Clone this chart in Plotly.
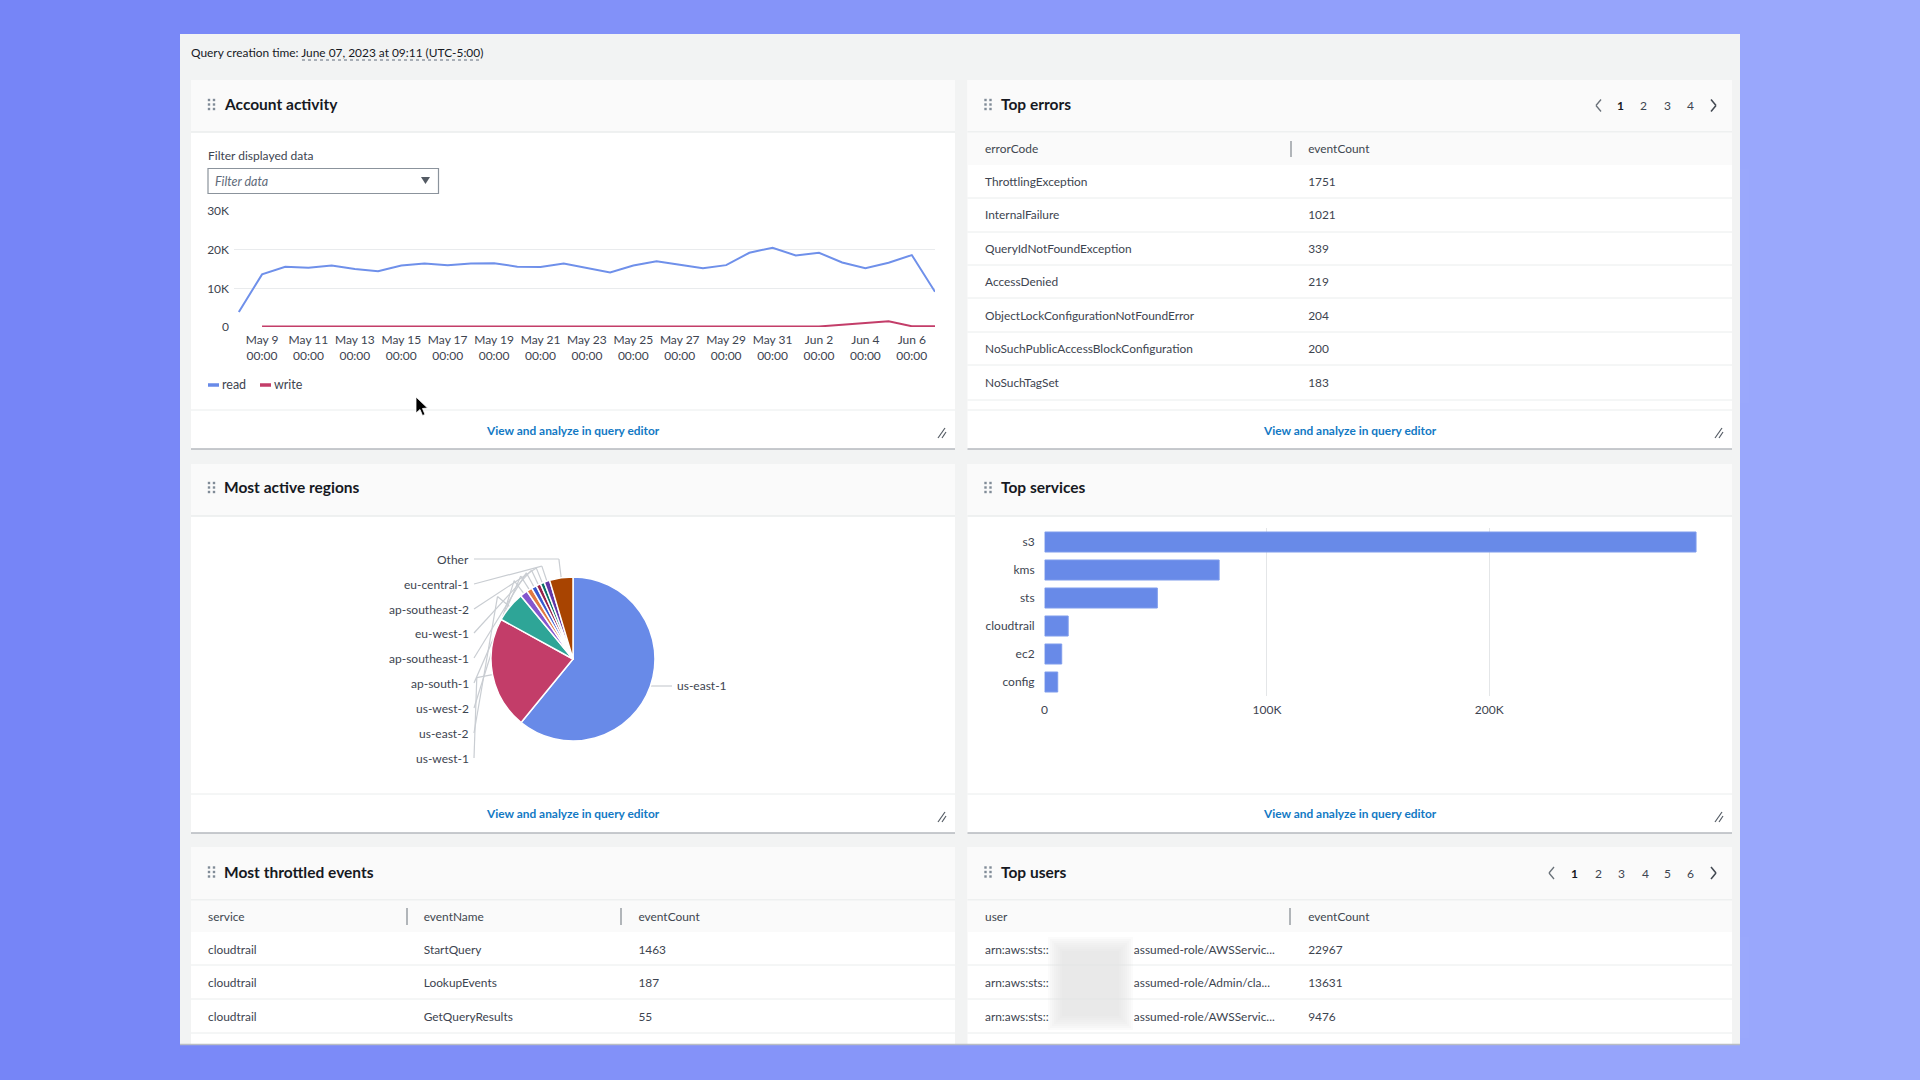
import math
import plotly.graph_objects as go

W, H = 1920, 1080
FONT = "Lato"
TXT = "#3d4450"
DARK = "#16191f"
LINK = "#1279c4"

# ---- data ----
dates = ["2023-05-08", "2023-05-09", "2023-05-10", "2023-05-11", "2023-05-12", "2023-05-13", "2023-05-14",
         "2023-05-15", "2023-05-16", "2023-05-17", "2023-05-18", "2023-05-19", "2023-05-20", "2023-05-21",
         "2023-05-22", "2023-05-23", "2023-05-24", "2023-05-25", "2023-05-26", "2023-05-27", "2023-05-28",
         "2023-05-29", "2023-05-30", "2023-05-31", "2023-06-01", "2023-06-02", "2023-06-03", "2023-06-04",
         "2023-06-05", "2023-06-06", "2023-06-07"]
read_events = [3900, 13600, 15600, 15300, 15900, 15000, 14400, 15900, 16400, 16000, 16400, 16500, 15600, 15500,
               16400, 15300, 14100, 15900, 17000, 16100, 15200, 16000, 19200, 20500, 18500, 19200, 16700, 15200,
               16600, 18600, 9100]
write_events = [None, 100, 100, 100, 100, 100, 100, 100, 100, 100, 150, 200, 150, 100,
                100, 100, 150, 200, 100, 100, 100, 100, 100, 150, 150, 150, 550, 950,
                1500, 200, 200]
tick_dates = ["2023-05-09", "2023-05-11", "2023-05-13", "2023-05-15", "2023-05-17", "2023-05-19", "2023-05-21",
              "2023-05-23", "2023-05-25", "2023-05-27", "2023-05-29", "2023-05-31", "2023-06-02", "2023-06-04",
              "2023-06-06"]
tick_labels = ["May 9", "May 11", "May 13", "May 15", "May 17", "May 19", "May 21", "May 23", "May 25", "May 27",
               "May 29", "May 31", "Jun 2", "Jun 4", "Jun 6"]
activity_y_ticks = [0, 10000, 20000, 30000]
activity_y_labels = ["0", "10K", "20K", "30K"]

regions = ["us-east-1", "us-west-1", "us-east-2", "us-west-2", "ap-south-1", "ap-southeast-1", "eu-west-1",
           "ap-southeast-2", "eu-central-1", "Other"]
region_values = [60.9, 22.1, 6.0, 1.5, 1.1, 1.0, 0.9, 0.8, 1.1, 4.6]
region_colors = ["#688ae8", "#c33d69", "#2ea597", "#8456ce", "#e07941", "#3759ce", "#962249", "#096f64", "#6237a7",
                 "#a84401"]

services = ["s3", "kms", "sts", "cloudtrail", "ec2", "config"]
service_counts = [293000, 78500, 50700, 10600, 7700, 5900]
service_ticks = [0, 100000, 200000, 300000]
service_tick_labels = ["0", "100K", "200K", ""]

error_codes = ["ThrottlingException", "InternalFailure", "QueryIdNotFoundException", "AccessDenied",
               "ObjectLockConfigurationNotFoundError", "NoSuchPublicAccessBlockConfiguration", "NoSuchTagSet"]
error_counts = [1751, 1021, 339, 219, 204, 200, 183]

throttled_service = ["cloudtrail", "cloudtrail", "cloudtrail"]
throttled_event = ["StartQuery", "LookupEvents", "GetQueryResults"]
throttled_count = [1463, 187, 55]

GAP = "\u00a0" * 28
users = ["arn:aws:sts::" + GAP + "assumed-role/AWSServic...",
         "arn:aws:sts::" + GAP + "assumed-role/Admin/cla...",
         "arn:aws:sts::" + GAP + "assumed-role/AWSServic..."]
user_counts = [22967, 13631, 9476]

# ---- pixel helpers ----
px = lambda x: x / W
py = lambda y: 1 - y / H
shapes, notes = [], []


def rect(x0, y0, x1, y1, fill, line=None, lw=0, opacity=1):
    shapes.append(dict(type="rect", xref="paper", yref="paper", x0=px(x0), x1=px(x1), y0=py(y1), y1=py(y0),
                       fillcolor=fill, line=dict(color=line or fill, width=lw), layer="below", opacity=opacity))


def seg(x0, y0, x1, y1, color, lw=1, dash="solid"):
    shapes.append(dict(type="line", xref="paper", yref="paper", x0=px(x0), x1=px(x1), y0=py(y0), y1=py(y1),
                       line=dict(color=color, width=lw, dash=dash), layer="below"))


def poly(points, fill, line=None, lw=0):
    d = "M " + " L ".join(f"{px(x):.5f} {py(y):.5f}" for x, y in points) + " Z"
    shapes.append(dict(type="path", xref="paper", yref="paper", path=d, fillcolor=fill,
                       line=dict(color=line or fill, width=lw), layer="below"))


def text(x, y, s, size=12, color=TXT, anchor="left", bold=False, italic=False):
    if bold:
        s = f"<b>{s}</b>"
    if italic:
        s = f"<i>{s}</i>"
    notes.append(dict(xref="paper", yref="paper", x=px(x), y=py(y), text=s, showarrow=False, xanchor=anchor,
                      yanchor="middle", font=dict(family=FONT, size=size, color=color), borderpad=0, borderwidth=0))


# ---- page background ----
bands = 48
c0, c1 = (118, 133, 247), (156, 170, 252)
for i in range(bands):
    t = i / (bands - 1)
    col = "rgb(%d,%d,%d)" % tuple(round(a + (b - a) * t) for a, b in zip(c0, c1))
    rect(W * i / bands, 0, W * (i + 1) / bands + 1, H, col)

rect(180, 34, 1740, 1045, "#f2f3f3")

text(191, 53, "Query creation time: June 07, 2023 at 09:11 (UTC-5:00)", 11.9, DARK)
seg(302, 60, 482, 60, "#5f6b7a", 1, "dot")


def panel(x0, y0, x1, y1, title, head_bottom, footer=None, title_dy=0):
    rect(x0, y0, x1, y1, "#ffffff")
    rect(x0, y0, x1, head_bottom, "#fafafa")
    seg(x0, head_bottom, x1, head_bottom, "#eaeded", 1.5)
    if y1 < 1040:
        seg(x0, y1, x1, y1, "#b4b8be", 1.5)
    hx = x0 + 20.5
    hy = (y0 + head_bottom) / 2 - 1.5 + title_dy
    for dx in (-2.5, 2.5):
        for dy in (-4.5, 0, 4.5):
            rect(hx + dx - 1.2, hy + dy - 1.2, hx + dx + 1.2, hy + dy + 1.2, "#808b97")
    text(x0 + 33, hy, title, 15.5, DARK, bold=True)
    if footer:
        seg(x0, footer, x1, footer, "#eaeded", 1)
        text((x0 + x1) / 2, (footer + y1) / 2 + 1 + title_dy, "View and analyze in query editor", 11.9, LINK, "center",
             bold=True)
        rx, ry = x1 - 13, y1 - 16
        seg(rx - 4, ry + 5, rx + 3, ry - 5, "#545b64", 1.2)
        seg(rx, ry + 5, rx + 4, ry - 1, "#545b64", 1.2)


panel(191, 80, 955, 449, "Account activity", 132, 410)
panel(967.5, 80, 1732, 449, "Top errors", 132, 410)
panel(191, 464, 955, 833, "Most active regions", 516, 794, -1)
panel(967.5, 464, 1732, 833, "Top services", 516, 794, -1)
panel(191, 847, 955, 1044, "Most throttled events", 900)
panel(967.5, 847, 1732, 1044, "Top users", 900)
seg(180, 1044.5, 1740, 1044.5, "#b9bdc4", 1.5)


def pager(xs_nums, prev_x, next_x, y):
    seg(prev_x + 3, y - 6, prev_x - 2, y, "#687078", 1.3)
    seg(prev_x - 2, y, prev_x + 3, y + 6, "#687078", 1.3)
    seg(next_x - 2, y - 6, next_x + 3, y, "#414750", 1.5)
    seg(next_x + 3, y, next_x - 2, y + 6, "#414750", 1.5)
    for i, (x, n) in enumerate(xs_nums):
        text(x, y + 0.5, n, 12, DARK if i == 0 else TXT, "center", bold=i == 0)


pager(list(zip([1620, 1643, 1667, 1690], "1234")), 1598, 1713, 105.5)
pager(list(zip([1574, 1598, 1621, 1645, 1667, 1690], "123456")), 1551, 1713, 873)

# ---- account activity extras ----
text(208, 156, "Filter displayed data", 12, TXT)
rect(208, 168.5, 438.5, 193.5, "#ffffff", "#8b939c", 1.2)
text(215, 181, "Filter data", 12.5, "#5f6b7a", italic=True)
poly([(421, 177), (430, 177), (425.5, 184)], "#545b64")
seg(208, 385, 219, 385, "#688ae8", 3.5)
text(222, 385, "read", 12.5, TXT)
seg(260, 385, 271, 385, "#c33d69", 3.5)
text(274, 385, "write", 12.5, TXT)
poly([(416, 397), (416, 413), (420, 409.5), (422.5, 415.5), (425, 414.5), (422.5, 408.5), (427.5, 408)], "#000000",
     "#ffffff", 0.8)

# ---- table backdrops ----
ROW_LINE = "#eaeded"
rect(967.5, 132.5, 1732, 165, "#fafafa")
seg(1291, 141, 1291, 157, "#687078", 1)
for y in [198, 232, 265, 298, 332, 365, 400]:
    seg(967.5, y, 1732, y, ROW_LINE, 1)

rect(191, 900.5, 955, 932, "#fafafa")
seg(407, 908, 407, 925, "#687078", 1)
seg(621, 908, 621, 925, "#687078", 1)
rect(967.5, 900.5, 1732, 932, "#fafafa")
seg(1290, 908, 1290, 925, "#687078", 1)
for y in [965, 999, 1033]:
    seg(191, y, 955, y, ROW_LINE, 1)
    seg(967.5, y, 1732, y, ROW_LINE, 1)
for inset in range(0, 16, 2):
    rect(1048 + inset, 937 + inset, 1133 - inset, 1030 - inset, "#e4e5e6", opacity=0.14)

# ---- pie leader lines and labels ----
cx, cy, r = 573, 659, 82
label_y = {"us-west-1": 758, "us-east-2": 733, "us-west-2": 708, "ap-south-1": 683, "ap-southeast-1": 658,
           "eu-west-1": 633, "ap-southeast-2": 609, "eu-central-1": 584, "Other": 559}
total = sum(region_values)
acc = 0
for name, v in zip(regions, region_values):
    mid = (acc + v / 2) / total * 2 * math.pi
    acc += v
    ex, ey = cx + r * math.sin(mid), cy - r * math.cos(mid)
    if name == "us-east-1":
        seg(ex, 686, 672, 686, "#c9cdd2", 1.2)
        text(677, 685, name, 12, TXT)
        continue
    jx, jy = cx + (r + 16) * math.sin(mid), cy - (r + 16) * math.cos(mid)
    ly = label_y[name]
    if name == "Other":
        jy = ly
    seg(ex, ey, jx, jy, "#c9cdd2", 1.2)
    seg(jx, jy, 474, ly, "#c9cdd2", 1.2)
    text(469, ly, name, 12, TXT, "right")

# ---- figure ----
fig = go.Figure()

fig.add_trace(go.Scatter(x=dates, y=read_events, mode="lines", name="read", line=dict(color="#6f90ea", width=2),
                         xaxis="x", yaxis="y", showlegend=False, connectgaps=False))
fig.add_trace(go.Scatter(x=dates, y=write_events, mode="lines", name="write", line=dict(color="#c33d69", width=2),
                         xaxis="x", yaxis="y", showlegend=False))

fig.add_trace(go.Pie(labels=regions, values=region_values, sort=False, direction="clockwise", rotation=0,
                     textinfo="none", marker=dict(colors=region_colors, line=dict(color="#ffffff", width=1.5)),
                     domain=dict(x=[px(cx - r), px(cx + r)], y=[py(cy + r), py(cy - r)]), showlegend=False))

fig.add_trace(go.Bar(x=service_counts, y=services, orientation="h", xaxis="x2", yaxis="y2",
                     marker=dict(color="#688ae8", line=dict(color="#7f9cec", width=1)), showlegend=False))


def table(x0, y0, x1, y1, col_px, headers, columns, header_h=33, row_h=33.5):
    fig.add_trace(go.Table(
        domain=dict(x=[px(x0), px(x1)], y=[py(y1), py(y0)]),
        columnwidth=col_px,
        header=dict(values=headers, align="left", height=header_h, fill=dict(color="rgba(0,0,0,0)"),
                    line=dict(width=0, color="rgba(0,0,0,0)"), font=dict(family=FONT, size=11.9, color="#414750")),
        cells=dict(values=columns, align="left", height=row_h, fill=dict(color="rgba(0,0,0,0)"),
                   line=dict(width=0, color="rgba(0,0,0,0)"), font=dict(family=FONT, size=11.9, color=TXT)),
    ))


table(977, 136, 1732, 404, [323.6, 431.4], ["errorCode", "eventCount"], [error_codes, error_counts])
table(200, 904, 955, 1038, [216, 215, 324], ["service", "eventName", "eventCount"],
      [throttled_service, throttled_event, throttled_count])
table(977, 904, 1732, 1038, [323.6, 431.4], ["user", "eventCount"], [users, user_counts])

fig.update_layout(
    width=W, height=H, margin=dict(l=0, r=0, t=0, b=0, autoexpand=False),
    paper_bgcolor="#8a9af9", plot_bgcolor="rgba(0,0,0,0)",
    font=dict(family=FONT, size=12, color=TXT), showlegend=False,
    shapes=shapes, annotations=notes, bargap=0.286,
    xaxis=dict(domain=[px(234), px(935)], range=["2023-05-07 19:00", "2023-06-07"], type="date",
               tickvals=tick_dates, ticktext=[f"{t}<br>00:00" for t in tick_labels], tickangle=0,
               showgrid=False, zeroline=False, showline=False, ticks="", anchor="y", ticklabelstandoff=4,
               tickfont=dict(family=FONT, size=12, color=TXT)),
    yaxis=dict(domain=[py(327), py(211)], range=[0, 30000], tickvals=activity_y_ticks, ticktext=activity_y_labels,
               gridcolor="#e9ebed", gridwidth=1, zeroline=False, showline=False, anchor="x", ticklabelstandoff=4,
               tickfont=dict(family=FONT, size=12, color=TXT)),
    xaxis2=dict(domain=[px(1044.6), px(1711.6)], range=[0, 300000], tickvals=service_ticks,
                ticktext=service_tick_labels, gridcolor="#e4e6e8", gridwidth=1, zeroline=False, showline=False,
                anchor="y2", ticklabelstandoff=5, tickfont=dict(family=FONT, size=12, color=TXT)),
    yaxis2=dict(domain=[py(696), py(528)], categoryorder="array", categoryarray=services[::-1], anchor="x2",
                showgrid=False, zeroline=False, showline=False, ticklabelstandoff=9,
                tickfont=dict(family=FONT, size=12, color=TXT)),
)

fig.write_html("out.html", config=dict(displayModeBar=False),
               post_script="document.body.style.margin='0';document.body.style.overflow='hidden';")
